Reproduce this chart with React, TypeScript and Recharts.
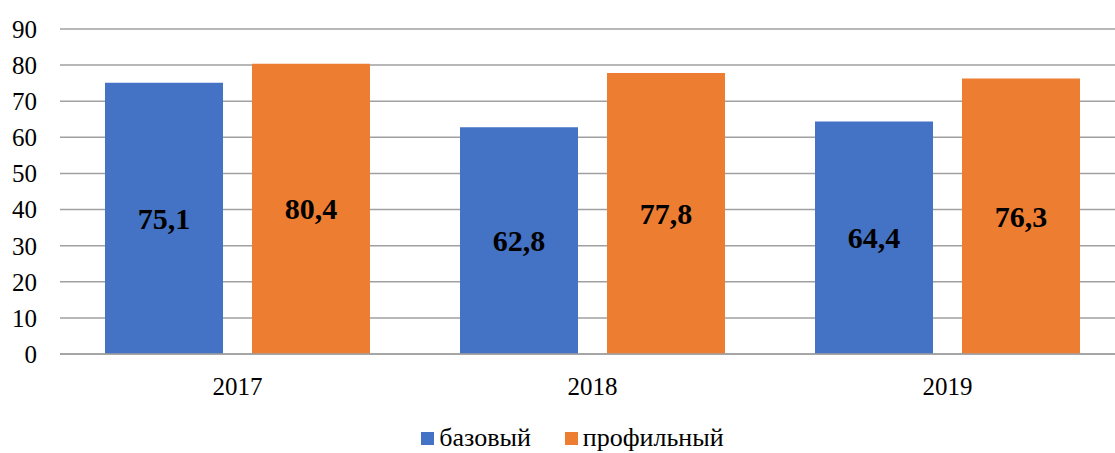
import { BarChart, Bar, XAxis, YAxis, CartesianGrid, Legend, LabelList } from "recharts";

const years = ["2017", "2018", "2019"];
const basic = [75.1, 62.8, 64.4];
const profile = [80.4, 77.8, 76.3];
const yTicks = [0, 10, 20, 30, 40, 50, 60, 70, 80, 90];

const data = years.map((year, i) => ({
  year,
  basic: basic[i],
  profile: profile[i],
}));

const FONT = "Liberation Serif, DejaVu Serif, serif";

const fmt = (v: any) => String(v).replace(".", ",");

const renderLegend = (props: any) => {
  const { payload } = props;
  return (
    <div style={{ display: "flex", justifyContent: "center", fontFamily: FONT, fontSize: 26, lineHeight: "30px", color: "#000", paddingLeft: 20 }}>
      {payload.map((entry: any, i: number) => (
        <div key={i} style={{ display: "flex", alignItems: "center", marginRight: i === 0 ? 34 : 0 }}>
          <span style={{ display: "inline-block", width: 13, height: 13, background: entry.color, marginRight: 5 }} />
          <span>{entry.value}</span>
        </div>
      ))}
    </div>
  );
};

export default function App() {
  return (
    <div style={{ position: "absolute", left: 0, top: 0, width: 1115, height: 453, overflow: "hidden", background: "#fff", fontFamily: FONT }}>
      <BarChart
        width={1125}
        height={453}
        data={data}
        margin={{ top: 29, right: 0, left: 0, bottom: 0 }}
        barGap={29}
        barSize={118}
        style={{ fontFamily: FONT }}
      >
        <CartesianGrid vertical={false} stroke="#a0a0a0" strokeWidth={1.5} />
        <XAxis
          dataKey="year"
          height={69}
          tickSize={0}
          tickMargin={23}
          tickLine={false}
          axisLine={{ stroke: "#a0a0a0", strokeWidth: 1.5 }}
          tick={{ fill: "#000", fontSize: 25, fontFamily: FONT }}
        />
        <YAxis
          width={60}
          domain={[0, 90]}
          ticks={yTicks}
          tickSize={0}
          tickMargin={23}
          tickLine={false}
          axisLine={false}
          tick={{ fill: "#000", fontSize: 25, fontFamily: FONT }}
        />
        <Legend verticalAlign="bottom" content={renderLegend} />
        <Bar dataKey="basic" name="базовый" fill="#4472C4" isAnimationActive={false}>
          <LabelList
            dataKey="basic"
            position="center"
            formatter={fmt}
            fill="#000"
            fontSize={30}
            fontWeight="bold"
            fontFamily={FONT}
          />
        </Bar>
        <Bar dataKey="profile" name="профильный" fill="#ED7D31" isAnimationActive={false}>
          <LabelList
            dataKey="profile"
            position="center"
            formatter={fmt}
            fill="#000"
            fontSize={30}
            fontWeight="bold"
            fontFamily={FONT}
          />
        </Bar>
      </BarChart>
    </div>
  );
}
